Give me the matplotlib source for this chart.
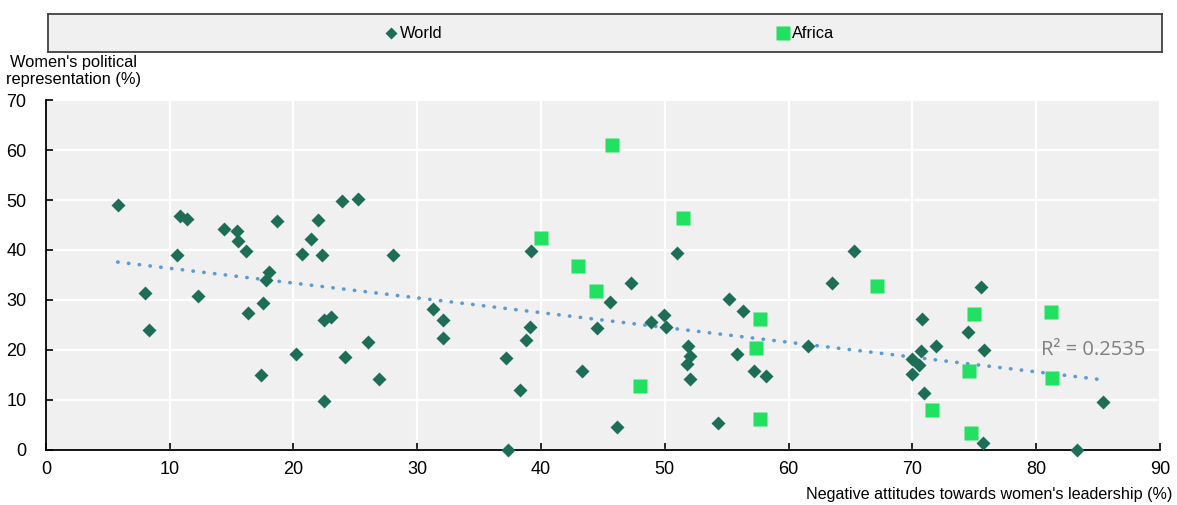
import numpy as np
import matplotlib
matplotlib.use("Agg")
import matplotlib.pyplot as plt

plt.rcParams["font.family"] = ["Liberation Sans Narrow", "Liberation Sans", "DejaVu Sans"]

# World: negative attitudes (%) vs women's political representation (%)
world_x = [5.8, 10.8, 11.4, 14.4, 15.4, 15.5, 16.2, 18.7, 22.0, 23.9, 25.2, 21.4,
           20.7, 22.3, 10.6, 18.0, 17.8, 8.0, 12.3, 17.5, 16.3, 22.5, 23.0, 8.3,
           26.0, 20.2, 24.2, 17.4, 22.5, 28.0, 26.9, 31.3, 32.1, 32.1, 37.2, 38.3,
           37.3, 39.2, 39.1, 38.8, 45.6, 47.3, 44.5, 43.3, 46.1, 48.9, 49.9, 50.1,
           51.0, 51.9, 52.0, 51.8, 52.0, 55.2, 56.3, 55.8, 57.2, 58.2, 54.3, 61.6,
           63.5, 65.3, 70.8, 70.7, 71.9, 70.0, 70.5, 70.0, 70.9, 74.5, 75.5, 75.8,
           75.7, 85.4, 83.3]
world_y = [49.0, 46.9, 46.2, 44.3, 43.9, 41.9, 39.9, 45.9, 46.1, 49.9, 50.3, 42.3,
           39.3, 39.1, 39.1, 35.7, 34.0, 31.4, 30.9, 29.5, 27.5, 26.1, 26.6, 24.1,
           21.6, 19.3, 18.7, 15.1, 9.9, 39.0, 14.3, 28.3, 26.1, 22.5, 18.4, 12.1,
           0.0, 39.9, 24.6, 22.1, 29.7, 33.5, 24.5, 15.9, 4.7, 25.7, 27.1, 24.7,
           39.5, 20.8, 18.9, 17.2, 14.3, 30.2, 27.9, 19.2, 15.8, 14.8, 5.5, 20.8,
           33.5, 39.9, 26.3, 19.9, 20.9, 18.3, 17.1, 15.3, 11.5, 23.7, 32.6, 20.1,
           1.5, 9.7, 0.0]

africa_x = [40.0, 45.7, 43.0, 44.4, 48.0, 51.5, 57.7, 57.4, 57.7, 67.1, 71.6,
            75.0, 74.6, 74.7, 81.2, 81.3]
africa_y = [42.5, 61.1, 36.8, 31.8, 12.9, 46.4, 26.2, 20.4, 6.3, 32.8, 8.1,
            27.3, 15.9, 3.5, 27.6, 14.5]

r2_label = "R² = 0.2535"
x_ticks = list(range(0, 100, 10))
y_ticks = list(range(0, 80, 10))

world_col = "#1e6e57"
africa_col = "#22e060"
trend_col = "#5b9bd5"
bg = "#f0f0f0"

fig = plt.figure(figsize=(11.77, 5.05), dpi=100)
ax = fig.add_axes([45.9 / 1177, 55 / 505, (1160 - 45.9) / 1177, 350 / 505])
ax.set_facecolor(bg)

# linear trend over all countries, drawn across the world range
ax_all = np.array(world_x + africa_x)
ay_all = np.array(world_y + africa_y)
k, b = np.polyfit(ax_all, ay_all, 1)
tx = np.array([min(world_x), max(world_x)])
ax.plot(tx, k * tx + b, color=trend_col, lw=2.6, linestyle=(0, (0.1, 2.9)),
        dash_capstyle="round", zorder=2)

ax.plot(world_x, world_y, "D", color=world_col, ms=6.8, mec="none", zorder=3,
        clip_on=False)
ax.plot(africa_x, africa_y, "s", color=africa_col, ms=10.2, mec="none", zorder=4,
        clip_on=False)

ax.text(80.4, 20.0, r2_label, color="#808080", fontsize=14.5,
        family=["Open Sans", "DejaVu Sans"], va="center", ha="left")

ax.set_xlim(0, 90)
ax.set_ylim(0, 70)
ax.set_xticks(x_ticks)
ax.set_yticks(y_ticks)
ax.grid(True, color="white", lw=1.6)
ax.set_axisbelow(True)
for s in ("top", "right"):
    ax.spines[s].set_visible(False)
for s in ("left", "bottom"):
    ax.spines[s].set_color("black")
    ax.spines[s].set_linewidth(1.3)
ax.tick_params(direction="in", length=5, width=1.2, labelsize=13,
               colors="black")
ax.tick_params(axis="x", pad=8)
ax.tick_params(axis="y", pad=14)

fig.text(73 / 1177, 1 - 71 / 505, "Women's political\nrepresentation (%)",
         ha="center", va="center", fontsize=11.8, linespacing=1.1)
fig.text(1172 / 1177, 1 - 494 / 505,
         "Negative attitudes towards women's leadership (%)",
         ha="right", va="center", fontsize=11.6)

# legend strip across the top
lax = fig.add_axes([48 / 1177, 1 - 52 / 505, (1162 - 48) / 1177, 38 / 505])
lax.set_facecolor(bg)
lax.set_xticks([])
lax.set_yticks([])
for s in lax.spines.values():
    s.set_color("#404040")
    s.set_linewidth(1.3)
lax.set_xlim(48, 1162)
lax.set_ylim(0, 1)
lax.plot([391], [0.5], "D", color=world_col, ms=6, mec="none")
lax.text(400, 0.5, "World", va="center", ha="left", fontsize=11.8)
lax.plot([783], [0.5], "s", color=africa_col, ms=10, mec="none")
lax.text(792, 0.5, "Africa", va="center", ha="left", fontsize=11.8)

fig.savefig("out.png", dpi=100)
